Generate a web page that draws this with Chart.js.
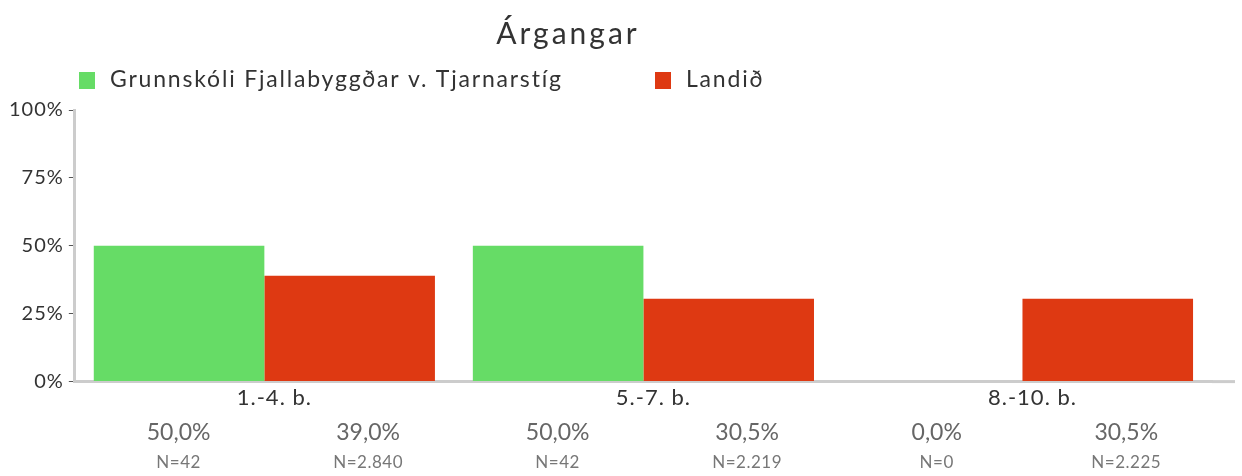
<!DOCTYPE html>
<html>
<head>
<meta charset="utf-8">
<script src="https://cdn.jsdelivr.net/npm/chart.js@4"></script>
<style>
  html, body { margin: 0; padding: 0; background: #fff; }
  #wrap { width: 1242px; height: 476px; }
</style>
</head>
<body>
<div id="wrap"><canvas id="myChart" width="1242" height="476"></canvas></div>
<script>
const categories = ["1.-4. b.", "5.-7. b.", "8.-10. b."];
const seriesNames = ["Grunnskóli Fjallabyggðar v. Tjarnarstíg", "Landið"];
const schoolValues = [50.0, 50.0, 0.0];
const countryValues = [39.0, 30.5, 30.5];
const schoolN = [42, 42, 0];
const countryN = [2840, 2219, 2225];
const yTicks = [0, 25, 50, 75, 100];

const colors = ["#66dc66", "#de3912"];
const FONT = "Lato, 'Open Sans', sans-serif";

// icelandic number formats: 50,0% and 2.840
const fmtPct = v => v.toFixed(1).replace(".", ",") + "%";
const fmtN = v => "N=" + v.toLocaleString("de-DE");

// the original font is spaced out a bit, canvas letterSpacing gets close
const spacingPlugin = {
  id: "spacing",
  beforeLayout(chart) { chart.ctx.letterSpacing = "1px"; },
  beforeDraw(chart) { chart.ctx.letterSpacing = "1px"; },
};

// title, legend and the value/N rows under the bars
const extrasPlugin = {
  id: "extras",
  afterDraw(chart) {
    const ctx = chart.ctx;
    const area = chart.chartArea;
    const x = chart.scales.x;
    ctx.save();
    ctx.textBaseline = "middle";

    // title
    ctx.fillStyle = "#333";
    ctx.font = "30px " + FONT;
    ctx.letterSpacing = "3px";
    ctx.textAlign = "center";
    ctx.fillText("Árgangar", 568, 34);

    // legend
    ctx.font = "23px " + FONT;
    ctx.letterSpacing = "1.8px";
    ctx.textAlign = "left";
    const legendX = [79, 655];
    seriesNames.forEach((name, i) => {
      ctx.fillStyle = colors[i];
      ctx.fillRect(legendX[i], 72, 16, 17);
      ctx.fillStyle = "#333";
      ctx.fillText(name, legendX[i] + 31, 80);
    });

    // extend the x axis line a bit past the plot like the original
    ctx.strokeStyle = "#cccccc";
    ctx.lineWidth = 3;
    ctx.beginPath();
    ctx.moveTo(area.right, area.bottom);
    ctx.lineTo(1235, area.bottom);
    ctx.stroke();

    // values + N below each category
    const quarter = (area.right - area.left) / categories.length / 4;
    const rows = [[schoolValues, schoolN], [countryValues, countryN]];
    ctx.textAlign = "center";
    categories.forEach((c, i) => {
      const cx = x.getPixelForValue(i) + 9;
      rows.forEach((r, k) => {
        const px = cx + (k === 0 ? -quarter : quarter);
        ctx.fillStyle = "#666";
        ctx.font = "23px " + FONT;
        ctx.letterSpacing = "0px";
        ctx.fillText(fmtPct(r[0][i]), px, 433);
        ctx.fillStyle = "#777";
        ctx.font = "17px " + FONT;
        ctx.letterSpacing = "0.5px";
        ctx.fillText(fmtN(r[1][i]), px, 463);
      });
    });
    ctx.restore();
  }
};

const config = {
  type: "bar",
  data: {
    labels: categories,
    datasets: [
      {
        label: seriesNames[0],
        data: schoolValues,
        backgroundColor: colors[0],
      },
      {
        label: seriesNames[1],
        data: countryValues,
        backgroundColor: colors[1],
      },
    ],
  },
  options: {
    responsive: false,
    animation: false,
    layout: { padding: { top: 110, left: 4, right: 30, bottom: 62 } },
    datasets: { bar: { categoryPercentage: 0.9, barPercentage: 1.0 } },
    scales: {
      x: {
        grid: { display: false, drawTicks: false },
        border: { color: "#cccccc", width: 3 },
        ticks: {
          color: "#333",
          font: { family: FONT, size: 22 },
          padding: 3,
          labelOffset: 10,
        },
      },
      y: {
        min: 0,
        max: 100,
        afterBuildTicks: scale => {
          scale.ticks = yTicks.map(v => ({ value: v }));
        },
        grid: { drawOnChartArea: false, color: "#555", tickLength: 6 },
        border: { color: "#cccccc", width: 3 },
        ticks: {
          color: "#333",
          font: { family: FONT, size: 20 },
          padding: 5,
          callback: v => v + "%",
        },
      },
    },
    plugins: {
      legend: { display: false },
      title: { display: false },
      tooltip: { enabled: false },
    },
  },
  plugins: [spacingPlugin, extrasPlugin],
};

let myChart = new Chart(document.getElementById("myChart"), config);
</script>
</body>
</html>
